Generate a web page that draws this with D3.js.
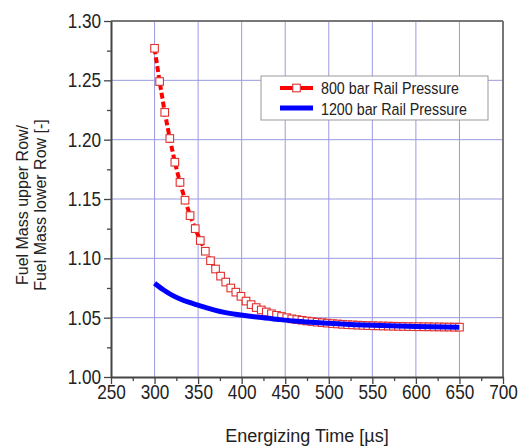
<!DOCTYPE html>
<html><head><meta charset="utf-8">
<script src="https://cdn.jsdelivr.net/npm/d3@7"></script>
<style>
body{margin:0;background:#fff;}
svg{display:block;font-family:"Liberation Sans",Arial,sans-serif;}
</style></head>
<body><svg id="c" width="523" height="448"></svg>
<script>
const xTicks = [250,300,350,400,450,500,550,600,650,700];
const yTicks = [1.00,1.05,1.10,1.15,1.20,1.25,1.30];
const xMinor = [275,325,375,425,475,525,575,625,675];
const yMinor = [1.025,1.075,1.125,1.175,1.225,1.275];
const seriesNames = ["800 bar Rail Pressure","1200 bar Rail Pressure"];
const time800 = [300,305.8,311.7,317.5,323.3,329.2,335,340.8,346.7,352.5,358.3,364.2,370,375.8,381.7,387.5,393.3,399.2,405,410.8,416.7,422.5,428.3,434.2,440,445.8,451.7,457.5,463.3,469.2,475,480.8,486.7,492.5,498.3,504.2,510,515.8,521.7,527.5,533.3,539.2,545,550.8,556.7,562.5,568.3,574.2,580,585.8,591.7,597.5,603.3,609.2,615,620.8,626.7,632.5,638.3,644.2,650];
const ratio800 = [1.277,1.249,1.223,1.201,1.181,1.164,1.149,1.136,1.125,1.115,1.106,1.098,1.091,1.085,1.080,1.075,1.0715,1.068,1.064,1.061,1.0585,1.0565,1.0548,1.0533,1.052,1.051,1.050,1.049,1.0484,1.0478,1.0472,1.0467,1.0462,1.0458,1.0454,1.0450,1.0447,1.0444,1.0441,1.0439,1.0437,1.0435,1.0433,1.0432,1.0431,1.0430,1.0429,1.0428,1.0427,1.0426,1.0425,1.0424,1.0424,1.0423,1.0423,1.0422,1.0422,1.0421,1.0421,1.0420,1.0420];
const time1200 = [300,310,320,330,340,350,360,370,380,390,400,420,440,460,480,500,530,560,600,650];
const ratio1200 = [1.079,1.0735,1.069,1.0655,1.0628,1.0605,1.0582,1.0562,1.0545,1.0532,1.0522,1.0503,1.0487,1.0472,1.0461,1.0452,1.0441,1.0433,1.0425,1.0420];

const svg = d3.select("#c");
const x = d3.scaleLinear().domain([250,700]).range([111,503]);
const y = d3.scaleLinear().domain([1.0,1.3]).range([377,21]);

// grid
const grid = svg.append("g").attr("stroke","#9b9be0").attr("stroke-width",1);
grid.selectAll("line.v").data(xTicks.slice(1,-1)).join("line")
  .attr("x1",d=>x(d)).attr("x2",d=>x(d)).attr("y1",y(1.3)).attr("y2",y(1.0));
grid.selectAll("line.h").data(yTicks.slice(1,-1)).join("line")
  .attr("y1",d=>y(d)).attr("y2",d=>y(d)).attr("x1",x(250)).attr("x2",x(700));

// frame top/right
svg.append("line").attr("x1",x(250)).attr("x2",x(700)).attr("y1",y(1.3)).attr("y2",y(1.3)).attr("stroke","#777").attr("stroke-width",2);
svg.append("line").attr("x1",x(700)).attr("x2",x(700)).attr("y1",y(1.3)).attr("y2",y(1.0)).attr("stroke","#777").attr("stroke-width",2);

// axes
function styleAxis(g){
  g.select(".domain").attr("stroke","#444").attr("stroke-width",2);
  g.selectAll(".tick line").attr("stroke","#444").attr("stroke-width",1.3);
}
const xMin = svg.append("g").attr("transform",`translate(0,${y(1.0)})`)
  .call(d3.axisBottom(x).tickValues(xMinor).tickSize(4).tickFormat("").tickSizeOuter(0));
styleAxis(xMin); xMin.select(".domain").remove();
const yMin = svg.append("g").attr("transform",`translate(${x(250)},0)`)
  .call(d3.axisLeft(y).tickValues(yMinor).tickSize(4).tickFormat("").tickSizeOuter(0));
styleAxis(yMin); yMin.select(".domain").remove();

const xa = svg.append("g").attr("transform",`translate(0,${y(1.0)})`)
  .call(d3.axisBottom(x).tickValues(xTicks).tickSize(7).tickSizeOuter(0).tickFormat(d3.format("d")));
styleAxis(xa);
xa.selectAll(".tick text").attr("font-size",20).attr("fill","#222").attr("font-family","Liberation Sans, Arial")
  .attr("y",8).attr("transform","scale(0.86,1)");
const ya = svg.append("g").attr("transform",`translate(${x(250)},0)`)
  .call(d3.axisLeft(y).tickValues(yTicks).tickSize(7).tickSizeOuter(0).tickFormat(d3.format(".2f")));
styleAxis(ya);
ya.selectAll(".tick text").attr("font-size",20).attr("fill","#222").attr("font-family","Liberation Sans, Arial")
  .attr("x",-11.5).attr("transform","scale(0.86,1)");

// titles
svg.append("text").attr("x",(x(250)+x(700))/2).attr("y",442).attr("text-anchor","middle")
  .attr("font-size",18).attr("fill","#222").text("Energizing Time [µs]");
const yt = svg.append("text").attr("transform","translate(0,205) rotate(-90)").attr("text-anchor","middle")
  .attr("font-size",16).attr("fill","#222");
yt.append("tspan").attr("x",0).attr("y",28).text("Fuel Mass upper Row/");
yt.append("tspan").attr("x",0).attr("y",46).text("Fuel Mass lower Row [-]");

// series
const d800 = time800.map((t,i)=>({t,v:ratio800[i]}));
const d1200 = time1200.map((t,i)=>({t,v:ratio1200[i]}));
const line = d3.line().x(d=>x(d.t)).y(d=>y(d.v));
svg.append("path").datum(d800).attr("d",line).attr("fill","none")
  .attr("stroke","#ff0000").attr("stroke-width",4).attr("stroke-dasharray","6,3");
svg.append("g").selectAll("rect").data(d800).join("rect")
  .attr("x",d=>x(d.t)-3.8).attr("y",d=>y(d.v)-3.8).attr("width",7.6).attr("height",7.6)
  .attr("fill","#fff").attr("stroke","#e03030").attr("stroke-width",1.1);
svg.append("path").datum(d1200).attr("d",line.curve(d3.curveMonotoneX)).attr("fill","none")
  .attr("stroke","#0000ff").attr("stroke-width",5);

// legend
const lg = svg.append("g");
lg.append("rect").attr("x",261).attr("y",76).attr("width",227).attr("height",44)
  .attr("fill","#fff").attr("stroke","#999").attr("stroke-width",1);
lg.append("line").attr("x1",280).attr("x2",313).attr("y1",88).attr("y2",88).attr("stroke","#ff0000").attr("stroke-width",4);
lg.append("rect").attr("x",296.5-3.8).attr("y",88-3.8).attr("width",7.6).attr("height",7.6)
  .attr("fill","#fff").attr("stroke","#e03030").attr("stroke-width",1.1);
lg.append("line").attr("x1",280).attr("x2",313).attr("y1",108).attr("y2",108).attr("stroke","#0000ff").attr("stroke-width",5);
lg.selectAll("text.l").data(seriesNames).join("text")
  .attr("transform",(d,i)=>`translate(321,${94+i*20.5}) scale(0.84,1)`)
  .attr("font-size",17).attr("fill","#222").text(d=>d);
</script></body></html>
